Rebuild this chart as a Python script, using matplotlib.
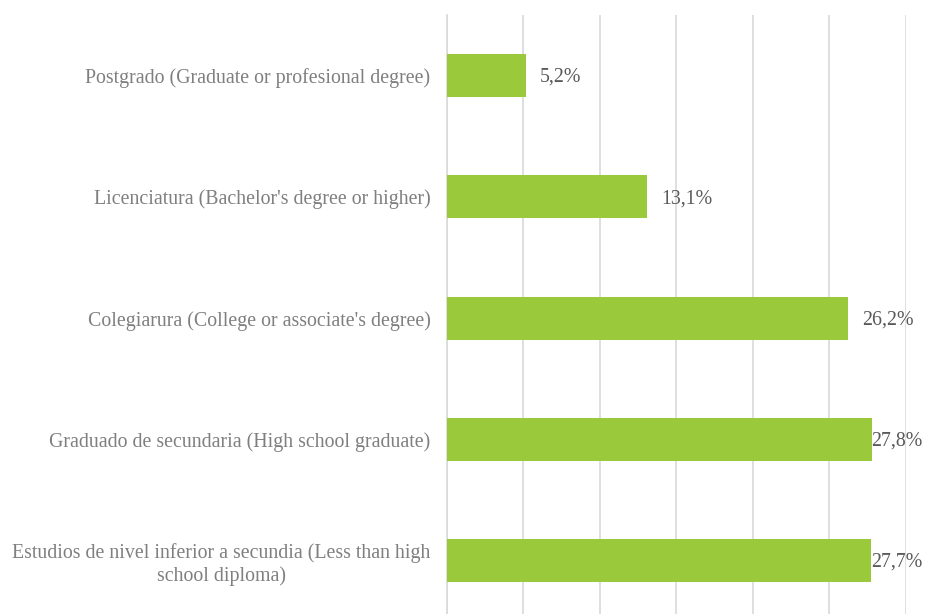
import matplotlib
matplotlib.use("Agg")
import matplotlib.pyplot as plt

categories = [
    "Estudios de nivel inferior a secundia (Less than high\nschool diploma)",
    "Graduado de secundaria (High school graduate)",
    "Colegiarura (College or associate's degree)",
    "Licenciatura (Bachelor's degree or higher)",
    "Postgrado (Graduate or profesional degree)",
]
values = [27.7, 27.8, 26.2, 13.1, 5.2]
labels = ["27,7%", "27,8%", "26,2%", "13,1%", "5,2%"]

plt.rcParams['font.family'] = ['Liberation Serif', 'DejaVu Serif']

W, H = 926, 614
fig = plt.figure(figsize=(W / 100, H / 100), dpi=100)
x0, x1 = 446.5, 906.0
y_top, y_bot = 15.0, 621.5
ax = fig.add_axes([x0 / W, 1 - y_bot / H, (x1 - x0) / W, (y_bot - y_top) / H])

FS = 14.3
ypos = list(range(len(categories)))
ax.barh(ypos, values, height=0.355, color="#9ACA3C", zorder=3)
ax.set_xlim(0, 30)
ax.set_ylim(-0.5, len(categories) - 0.5)
ax.set_xticks(range(0, 31, 5))
ax.xaxis.grid(True, color="#D9D9D9", linewidth=1.2, zorder=0)
ax.tick_params(axis='x', length=0, labelbottom=False)
ax.tick_params(axis='y', length=0, pad=11.5, labelsize=FS, labelcolor="#7F7F7F")
ax.set_yticks(ypos)
ax.set_yticklabels(categories, multialignment='center')
for s in ['top', 'right', 'bottom']:
    ax.spines[s].set_visible(False)
ax.spines['left'].set_color("#D9D9D9")
ax.spines['left'].set_linewidth(1.2)

pxu = (x1 - x0) / 30.0
for y, v, lab in zip(ypos, values, labels):
    if v * pxu + 14 + 50 > 922 - x0:
        ax.annotate(lab, ((922 - x0) / (x1 - x0), y), xycoords=ax.get_yaxis_transform(),
                    xytext=(0, -1.2), textcoords='offset points',
                    ha='right', va='center', fontsize=FS, color="#595959", zorder=4)
    else:
        ax.annotate(lab, (v, y), xytext=(14 * 0.72, -1.2), textcoords='offset points',
                    ha='left', va='center', fontsize=FS, color="#595959", zorder=4)

fig.savefig("out.png", dpi=100)
